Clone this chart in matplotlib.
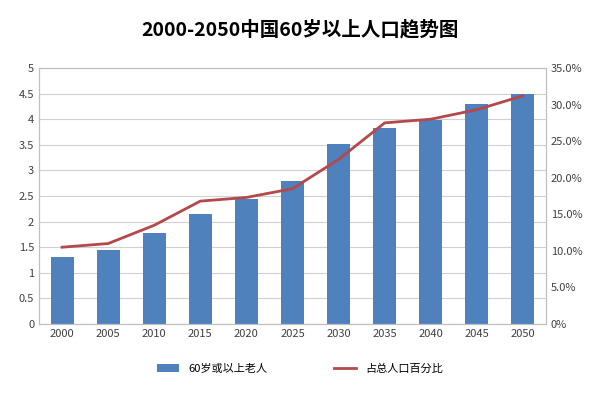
import matplotlib.pyplot as plt
from matplotlib.ticker import FuncFormatter

plt.rcParams["font.family"] = "sans-serif"
plt.rcParams["font.sans-serif"] = ["Noto Sans CJK SC", "Noto Sans CJK JP", "Noto Sans CJK TC", "DejaVu Sans"]

years = ["2000", "2005", "2010", "2015", "2020", "2025", "2030", "2035", "2040", "2045", "2050"]
elderly = [1.3, 1.45, 1.78, 2.15, 2.45, 2.8, 3.52, 3.82, 3.98, 4.3, 4.5]
share = [10.5, 11.0, 13.5, 16.8, 17.3, 18.5, 22.5, 27.5, 28.0, 29.3, 31.2]

fig = plt.figure(figsize=(6, 4), dpi=100)
ax = fig.add_axes([0.065, 0.19, 0.845, 0.64])
x = range(len(years))
ax.bar(x, elderly, width=0.5, color="#4f81bd", label="60岁或以上老人")
ax.set_ylim(0, 5)
ax.set_yticks([i * 0.5 for i in range(11)])
ax.set_yticklabels(["0", "0.5", "1", "1.5", "2", "2.5", "3", "3.5", "4", "4.5", "5"])
ax.set_xticks(list(x))
ax.set_xticklabels(years)
ax.set_xlim(-0.5, len(years) - 0.5)
ax.grid(axis="y", color="#d0d0d0", lw=0.8)
ax.set_axisbelow(True)
ax.tick_params(labelsize=8, length=0, colors="#404040")

ax2 = ax.twinx()
ax2.plot(x, share, color="#b5484a", lw=2, label="占总人口百分比")
ax2.set_ylim(0, 35)
ax2.set_yticks(range(0, 36, 5))
ax2.yaxis.set_major_formatter(FuncFormatter(lambda v, p: "0%" if v == 0 else f"{v:.1f}%"))
ax2.tick_params(labelsize=8, length=0, colors="#404040")

for a in (ax, ax2):
    for s in a.spines.values():
        s.set_color("#bfbfbf")

fig.suptitle("2000-2050中国60岁以上人口趋势图", y=0.95, fontsize=14, fontweight="bold")
h1, l1 = ax.get_legend_handles_labels()
h2, l2 = ax2.get_legend_handles_labels()
fig.legend(h1 + h2, l1 + l2, loc="lower center", ncol=2, frameon=False,
           fontsize=8, bbox_to_anchor=(0.5, 0.04), columnspacing=6)
fig.savefig("out.png")
